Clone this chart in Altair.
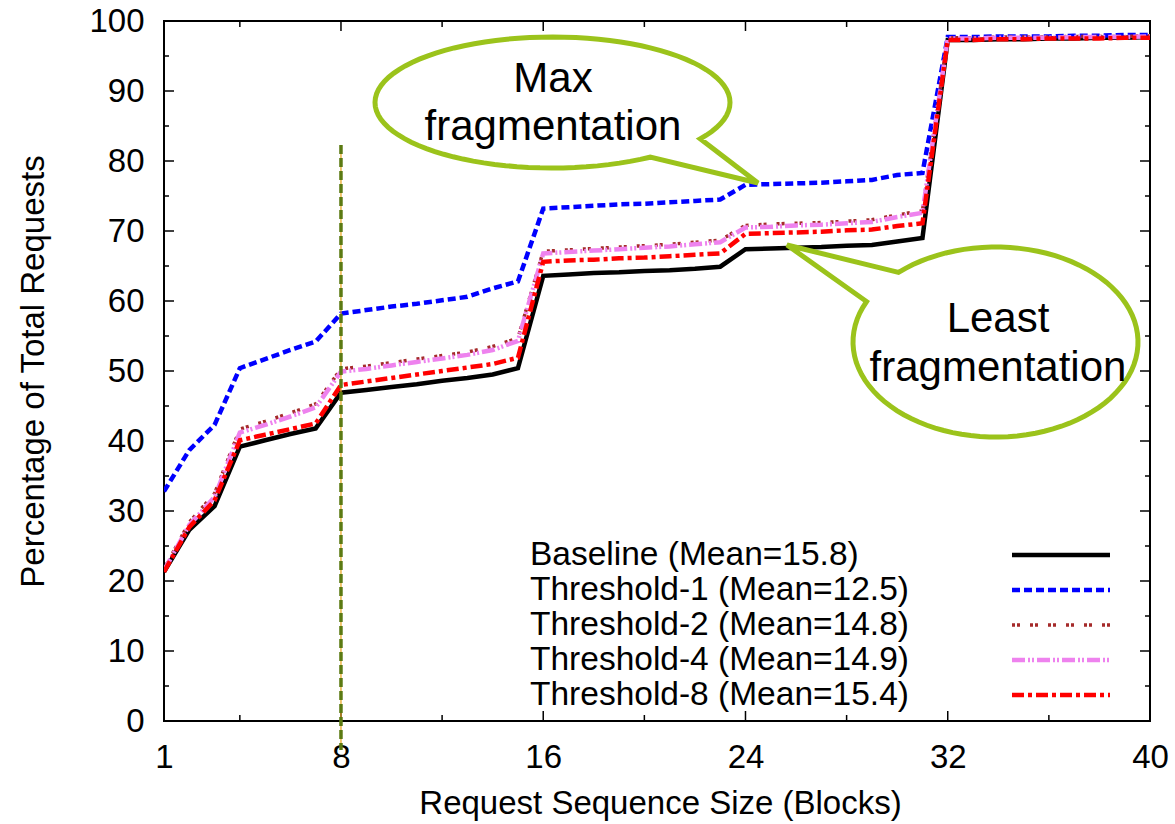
import math
import altair as alt
import pandas as pd

# ---------------- data ----------------
sizes = list(range(1, 41))

baseline = [21.3, 27.3, 30.7, 39.2, 40.1, 41.0, 41.8, 46.9, 47.3, 47.7,
            48.1, 48.6, 49.0, 49.5, 50.4, 63.6, 63.8, 64.0, 64.1, 64.3,
            64.4, 64.6, 64.9, 67.4, 67.5, 67.6, 67.7, 67.9, 68.0, 68.5,
            69.0, 97.3, 97.3, 97.4, 97.4, 97.5, 97.5, 97.6, 97.6, 97.7]

threshold1 = [32.8, 38.7, 42.3, 50.4, 51.7, 53.0, 54.2, 58.2, 58.7, 59.2,
              59.6, 60.1, 60.6, 61.8, 62.8, 73.2, 73.4, 73.6, 73.8, 73.9,
              74.1, 74.3, 74.5, 76.6, 76.7, 76.8, 76.9, 77.1, 77.3, 78.0,
              78.3, 97.7, 97.7, 97.8, 97.8, 97.8, 97.9, 97.9, 98.0, 98.0]

threshold2 = [21.7, 28.4, 32.5, 41.7, 42.8, 44.0, 45.3, 50.3, 50.7, 51.2,
              51.7, 52.2, 52.7, 53.5, 54.7, 67.1, 67.3, 67.5, 67.7, 67.9,
              68.1, 68.4, 68.7, 70.8, 71.0, 71.1, 71.2, 71.4, 71.6, 72.3,
              72.9, 97.6, 97.6, 97.7, 97.7, 97.7, 97.8, 97.8, 97.8, 97.9]

threshold4 = [21.5, 28.0, 32.0, 41.2, 42.3, 43.5, 44.8, 49.9, 50.3, 50.8,
              51.3, 51.8, 52.3, 53.0, 54.3, 66.8, 67.0, 67.2, 67.4, 67.6,
              67.8, 68.1, 68.4, 70.5, 70.6, 70.8, 70.9, 71.1, 71.3, 72.0,
              72.6, 97.5, 97.5, 97.6, 97.6, 97.6, 97.7, 97.7, 97.7, 97.8]

threshold8 = [21.3, 27.7, 31.5, 40.1, 40.9, 41.7, 42.5, 48.0, 48.5, 49.0,
              49.5, 50.0, 50.5, 51.0, 51.9, 65.6, 65.8, 65.9, 66.1, 66.2,
              66.4, 66.6, 66.8, 69.6, 69.7, 69.8, 69.9, 70.1, 70.2, 70.7,
              71.1, 97.3, 97.3, 97.4, 97.4, 97.5, 97.5, 97.5, 97.6, 97.6]

series_names = ["Baseline (Mean=15.8)", "Threshold-1 (Mean=12.5)",
                "Threshold-2 (Mean=14.8)", "Threshold-4 (Mean=14.9)",
                "Threshold-8 (Mean=15.4)"]
series_values = [baseline, threshold1, threshold2, threshold4, threshold8]

x_label_values = [1, 8, 16, 24, 32, 40]
x_minor_ticks = [4, 12, 20, 28, 36]
x_major_ticks = [8, 16, 24, 32]
y_major_ticks = list(range(10, 100, 10))
y_minor_ticks = list(range(5, 100, 10))
y_label_values = list(range(0, 101, 10))
marker_size = [8]

# ---------------- styles ----------------
colors = ["#000000", "#0000ff", "#a52a2a", "#ee82ee", "#ff0000"]
dashes = [None, [8, 4], [3, 2, 3, 10], [13, 3, 2, 2, 2, 3], [12, 4, 4, 4]]
widths = [4.5, 4.5, 3.5, 4.5, 4.5]

W, H = 986, 700
FONT = "Liberation Sans"
GREEN = "#9bc31b"

xscale = alt.Scale(domain=[1, 40], nice=False, zero=False)
yscale = alt.Scale(domain=[0, 100], nice=False, zero=False)

x_axis = alt.Axis(values=x_label_values, ticks=False, grid=False, domain=False,
                  labelFontSize=33, labelFont=FONT, labelColor="black",
                  labelPadding=20, labelFlush=False, labelOverlap=False,
                  title="Request Sequence Size (Blocks)", titleFont=FONT,
                  titleFontSize=33, titleFontWeight="normal", titleColor="black",
                  titleX=496, titleY=92, titleBaseline="alphabetic",
                  titleAlign="center")
y_axis = alt.Axis(values=y_label_values, ticks=False, grid=False, domain=False,
                  labelFontSize=33, labelFont=FONT, labelColor="black",
                  labelPadding=20, labelFlush=False, labelOverlap=False,
                  title="Percentage of Total Requests", titleFont=FONT,
                  titleFontSize=33, titleFontWeight="normal", titleColor="black",
                  titleX=-121, titleY=350, titleBaseline="alphabetic",
                  titleAlign="center", titleAngle=270)

layers = []

# inner tick marks (gnuplot style, all four sides)
def xticks(vals, length):
    d = pd.DataFrame({"v": vals})
    bottom = alt.Chart(d).mark_rule(color="black", strokeWidth=1.5).encode(
        x=alt.X("v:Q", scale=xscale, axis=x_axis),
        y=alt.value(H), y2=alt.value(H - length))
    top = alt.Chart(d).mark_rule(color="black", strokeWidth=1.5).encode(
        x=alt.X("v:Q", scale=xscale), y=alt.value(0), y2=alt.value(length))
    return [bottom, top]

def yticks(vals, length):
    d = pd.DataFrame({"v": vals})
    left = alt.Chart(d).mark_rule(color="black", strokeWidth=1.5).encode(
        y=alt.Y("v:Q", scale=yscale, axis=y_axis),
        x=alt.value(0), x2=alt.value(length))
    right = alt.Chart(d).mark_rule(color="black", strokeWidth=1.5).encode(
        y=alt.Y("v:Q", scale=yscale), x=alt.value(W - length), x2=alt.value(W))
    return [left, right]

layers += xticks(x_major_ticks, 10)
layers += xticks(x_minor_ticks, 6)
layers += yticks(y_major_ticks, 10)
layers += yticks(y_minor_ticks, 5)

# series lines
for name, vals, c, dsh, w in zip(series_names, series_values, colors, dashes, widths):
    d = pd.DataFrame({"size": sizes, "pct": vals})
    kw = dict(color=c, strokeWidth=w, clip=True)
    if dsh:
        kw["strokeDash"] = dsh
    layers.append(alt.Chart(d).mark_line(**kw).encode(
        x=alt.X("size:Q", scale=xscale, axis=x_axis),
        y=alt.Y("pct:Q", scale=yscale, axis=y_axis)))

# vertical marker line at 8 blocks
vd = pd.DataFrame({"v": marker_size})
layers.append(alt.Chart(vd).mark_rule(color="#e8a317", strokeWidth=1.2).encode(
    x=alt.X("v:Q", scale=xscale), y=alt.value(124), y2=alt.value(729)))
layers.append(alt.Chart(vd).mark_rule(color="#5b7a12", strokeWidth=3.5,
                                      strokeDash=[9, 4]).encode(
    x=alt.X("v:Q", scale=xscale), y=alt.value(124), y2=alt.value(729)))

# speech bubbles
def bubble_path(rx, ry, t_start, t_end, tip, n=90):
    pts = []
    for i in range(n + 1):
        t = math.radians(t_start + (t_end - t_start) * i / n)
        pts.append((math.cos(t), ry / rx * math.sin(t)))
    d = "M" + " L".join(f"{px:.4f},{py:.4f}" for px, py in pts)
    d += f" L{tip[0] / rx:.4f},{tip[1] / rx:.4f} Z"
    return d

bubbles = [
    dict(cx=552.5 - 164, cy=102.5 - 21, rx=177.5, ry=65.5, t0=33.7, t1=-303.4,
         tip=(205.5, 80.5), lines=["Max", "fragmentation"],
         ty=[92 - 21, 140 - 21], tx=553 - 164),
    dict(cx=995.5 - 164, cy=342 - 21, rx=142.5, ry=95, t0=-132.9, t1=205.2,
         tip=(-208.5, -97), lines=["Least", "fragmentation"],
         ty=[332 - 21, 381 - 21], tx=998 - 164),
]
for b in bubbles:
    path = bubble_path(b["rx"], b["ry"], b["t0"], b["t1"], b["tip"])
    layers.append(alt.Chart(pd.DataFrame({"k": [0]})).mark_point(
        shape=path, size=(2 * b["rx"]) ** 2, filled=True, fill="white",
        stroke=GREEN, strokeWidth=5, opacity=1, fillOpacity=1,
        strokeJoin="miter").encode(x=alt.value(b["cx"]), y=alt.value(b["cy"])))
    for txt, ty in zip(b["lines"], b["ty"]):
        layers.append(alt.Chart(pd.DataFrame({"t": [txt]})).mark_text(
            font=FONT, fontSize=42, color="black", align="center",
            baseline="alphabetic").encode(
            text="t:N", x=alt.value(b["tx"]), y=alt.value(ty)))

# legend (text on the left, sample line on the right)
for i, (name, c, dsh, w) in enumerate(zip(series_names, colors, dashes, widths)):
    yy = 534 + 35 * i
    layers.append(alt.Chart(pd.DataFrame({"t": [name]})).mark_text(
        font=FONT, fontSize=33.5, color="black", align="left",
        baseline="middle").encode(text="t:N", x=alt.value(366), y=alt.value(yy)))
    kw = dict(color=c, strokeWidth=w)
    if dsh:
        kw["strokeDash"] = dsh
    layers.append(alt.Chart(pd.DataFrame({"t": [name]})).mark_rule(**kw).encode(
        x=alt.value(848), x2=alt.value(946), y=alt.value(yy)))

chart = alt.layer(*layers).properties(
    width=W, height=H,
    padding={"left": 164, "top": 21, "right": 25, "bottom": 103},
    autosize=alt.AutoSizeParams(type="none"),
    background="white",
).configure_view(stroke="black", strokeWidth=2)

chart.save("out.html", embed_options={"renderer": "svg", "actions": False})
